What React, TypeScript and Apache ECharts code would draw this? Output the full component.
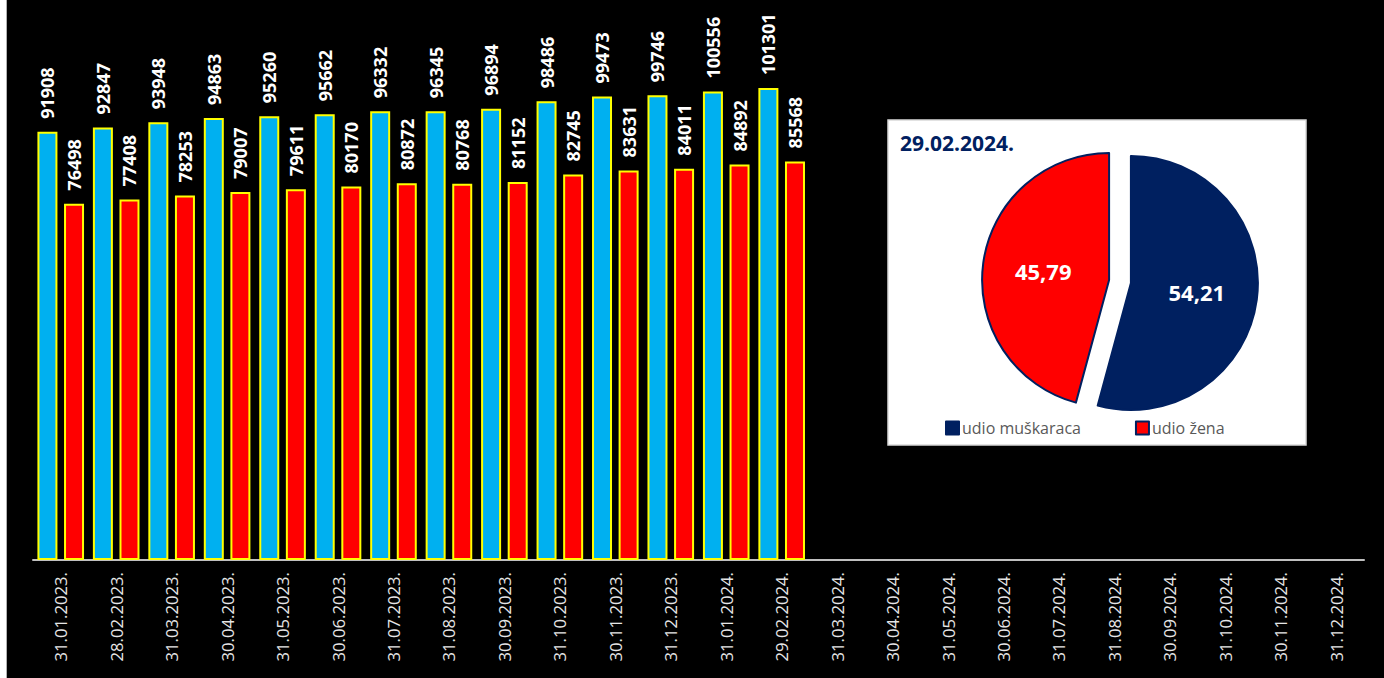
import React, { useEffect, useRef } from "react";
import * as echarts from "echarts";

const categories = [
  "31.01.2023.", "28.02.2023.", "31.03.2023.", "30.04.2023.", "31.05.2023.", "30.06.2023.",
  "31.07.2023.", "31.08.2023.", "30.09.2023.", "31.10.2023.", "30.11.2023.", "31.12.2023.",
  "31.01.2024.", "29.02.2024.", "31.03.2024.", "30.04.2024.", "31.05.2024.", "30.06.2024.",
  "31.07.2024.", "31.08.2024.", "30.09.2024.", "31.10.2024.", "30.11.2024.", "31.12.2024.",
];
const menValues = [91908, 92847, 93948, 94863, 95260, 95662, 96332, 96345, 96894, 98486, 99473, 99746, 100556, 101301];
const womenValues = [76498, 77408, 78253, 79007, 79611, 80170, 80872, 80768, 81152, 82745, 83631, 84011, 84892, 85568];
const pieNames = ["udio muškaraca", "udio žena"];
const pieValues = [54.21, 45.79];
const pieDate = "29.02.2024.";

const FONT = "'Open Sans', 'Noto Sans', sans-serif";
const NAVY = "#002060";

export default function App() {
  const ref = useRef<HTMLDivElement>(null);
  useEffect(() => {
    if (!ref.current) return;
    const chart = echarts.init(ref.current, undefined, { renderer: "svg" });
    const barLabel = {
      show: true,
      position: "top",
      rotate: 90,
      align: "left",
      verticalAlign: "middle",
      distance: 13,
      color: "#ffffff",
      fontFamily: FONT,
      fontWeight: "bold",
      fontSize: 18,
    };
    chart.setOption({
      animation: false,
      backgroundColor: "#000000",
      grid: { left: 33, right: 20, top: 1, bottom: 118, containLabel: false, outerBoundsMode: "none" },
      xAxis: {
        type: "category",
        data: categories,
        axisLine: { show: true, lineStyle: { color: "#bfbfbf", width: 2 } },
        axisTick: { show: false },
        axisLabel: {
          rotate: 90,
          interval: 0,
          margin: 12,
          color: "#e6e6e6",
          fontFamily: FONT,
          fontSize: 16.7,
        },
      },
      yAxis: {
        type: "value",
        min: 0,
        max: 120000,
        show: false,
        splitLine: { show: false },
      },
      legend: {
        left: 945,
        top: 420,
        padding: 0,
        itemWidth: 13,
        itemHeight: 13,
        itemGap: 54,
        icon: "rect",
        data: pieNames,
        textStyle: { color: "#595959", fontFamily: FONT, fontSize: 16, padding: [0, 0, 0, -2] },
        selectedMode: false,
      },
      graphic: [
        { type: "rect", z: 0, shape: { x: 0, y: 0, width: 6, height: 678 }, style: { fill: "#ffffff" } },
        { type: "line", z: 0, shape: { x1: 6.5, y1: 0, x2: 6.5, y2: 678 }, style: { stroke: "#b0b0b0", lineWidth: 1 } },
        {
          type: "rect",
          z: 0,
          shape: { x: 888, y: 120, width: 418, height: 325 },
          style: { fill: "#ffffff", stroke: "#d9d9d9", lineWidth: 1.5 },
        },
        {
          type: "text",
          z: 1,
          x: 900,
          y: 143,
          style: {
            text: pieDate,
            fill: NAVY,
            font: `bold 21px ${FONT}`,
            verticalAlign: "middle",
            align: "left",
          },
        },
      ],
      series: [
        {
          type: "bar",
          name: "muškarci",
          data: menValues,
          barWidth: 20,
          barGap: "33%",
          itemStyle: { color: "#00B0F0", borderColor: "#FFFF00", borderWidth: 2 },
          label: barLabel,
          emphasis: { disabled: true },
        },
        {
          type: "bar",
          name: "žene",
          data: womenValues,
          barWidth: 20,
          itemStyle: { color: "#FF0000", borderColor: "#FFFF00", borderWidth: 2 },
          label: barLabel,
          emphasis: { disabled: true },
        },
        {
          type: "pie",
          center: [1120, 281.5],
          radius: 127,
          startAngle: 90,
          clockwise: true,
          selectedMode: "multiple",
          selectedOffset: 11,
          emphasis: { disabled: true },
          select: { itemStyle: { borderColor: NAVY, borderWidth: 2 } },
          label: {
            show: true,
            position: "inside",
            color: "#ffffff",
            fontFamily: FONT,
            fontWeight: "bold",
            fontSize: 22,
            formatter: (p: any) => String(p.value.toFixed(2)).replace(".", ","),
          },
          labelLine: { show: false },
          data: [
            { name: pieNames[0], value: pieValues[0], selected: true, itemStyle: { color: NAVY, borderColor: NAVY, borderWidth: 2 } },
            { name: pieNames[1], value: pieValues[1], selected: true, itemStyle: { color: "#FF0000", borderColor: NAVY, borderWidth: 2 } },
          ],
        },
      ],
    });
    return () => chart.dispose();
  }, []);
  return (
    <div style={{ position: "fixed", left: 0, top: 0, width: 1384, height: 678 }}>
      <div ref={ref} style={{ width: 1384, height: 678 }} />
    </div>
  );
}
